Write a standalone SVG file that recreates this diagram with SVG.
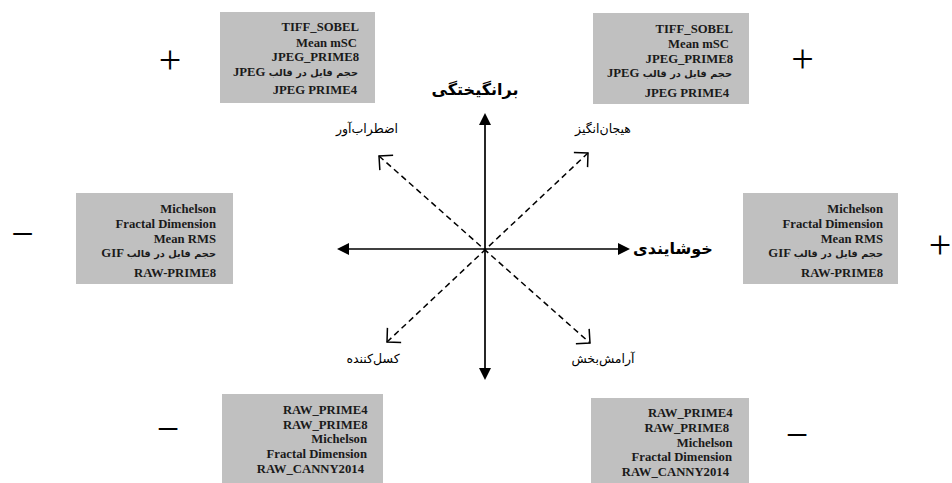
<svg xmlns="http://www.w3.org/2000/svg" width="952" height="483" viewBox="0 0 952 483">
<style>
.box{fill:#c0c0c0;stroke:none}
.bt{font-family:"Liberation Serif","DejaVu Sans",serif;font-weight:bold;font-size:12.7px;fill:#1a1a1a;text-anchor:end}
.fa{font-family:"DejaVu Sans",sans-serif;font-size:9.8px;font-weight:bold}
.axl{font-family:"DejaVu Sans",sans-serif;font-weight:bold;font-size:16px;fill:#000;text-anchor:middle}
.dl{font-family:"DejaVu Sans",sans-serif;font-size:12.5px;fill:#000;text-anchor:middle}
.sign{font-family:"Liberation Serif",serif;font-size:40px;fill:#000;text-anchor:middle}
.axis{stroke:#000;stroke-width:1.7;fill:none}
.diag{stroke:#000;stroke-width:1.5;stroke-dasharray:6 4;fill:none}
</style>
<defs>
<marker id="solid" markerUnits="userSpaceOnUse" viewBox="-12 -8 16 16" markerWidth="16" markerHeight="16" refX="0" refY="0" orient="auto-start-reverse" overflow="visible">
<path d="M2,0 L-10,-6 L-10,6 Z" fill="#000" stroke="none"/>
</marker>
<marker id="open" markerUnits="userSpaceOnUse" viewBox="-14 -14 18 28" markerWidth="18" markerHeight="28" refX="0" refY="0" orient="auto-start-reverse" overflow="visible">
<path d="M-10,-10 L0,0 L-10,10" fill="none" stroke="#000" stroke-width="1.5" stroke-dasharray="none"/>
</marker>
</defs>
<rect width="952" height="483" fill="#fff"/>

<g id="connectors">
<line class="axis" x1="485" y1="115" x2="485" y2="378" marker-start="url(#solid)" marker-end="url(#solid)"/>
<line class="axis" x1="339" y1="249" x2="628" y2="249" marker-start="url(#solid)" marker-end="url(#solid)"/>
<line class="diag" x1="379" y1="156" x2="590" y2="343" marker-start="url(#open)" marker-end="url(#open)"/>
<line class="diag" x1="387" y1="342" x2="588" y2="153" marker-start="url(#open)" marker-end="url(#open)"/>
</g>

<g id="box-top-left">
<rect class="box" x="220" y="12" width="155" height="91"/>
<text class="bt" x="359" y="30.5">TIFF_SOBEL</text>
<text class="bt" x="357" y="46.5">Mean mSC</text>
<text class="bt" x="359" y="60.5">JPEG_PRIME8</text>
<text class="bt" x="358" y="76">JPEG  <tspan class="fa">حجم فایل در قالب</tspan></text>
<text class="bt" x="357" y="94">JPEG  PRIME4</text>
</g>

<g id="box-top-right">
<rect class="box" x="593" y="13" width="156" height="91"/>
<text class="bt" x="733" y="32.5">TIFF_SOBEL</text>
<text class="bt" x="729" y="48">Mean mSC</text>
<text class="bt" x="733" y="62.5">JPEG_PRIME8</text>
<text class="bt" x="732" y="77">JPEG  <tspan class="fa">حجم فایل در قالب</tspan></text>
<text class="bt" x="729" y="96.5">JPEG  PRIME4</text>
</g>

<g id="box-left">
<rect class="box" x="76" y="193" width="157" height="91"/>
<text class="bt" x="216" y="213">Michelson</text>
<text class="bt" x="216" y="227.5">Fractal Dimension</text>
<text class="bt" x="216" y="242.5">Mean RMS</text>
<text class="bt" x="216" y="257">GIF  <tspan class="fa">حجم فایل در قالب</tspan></text>
<text class="bt" x="216" y="276.5">RAW-PRIME8</text>
</g>

<g id="box-right">
<rect class="box" x="743" y="193" width="155" height="91"/>
<text class="bt" x="883" y="213">Michelson</text>
<text class="bt" x="883" y="227.5">Fractal Dimension</text>
<text class="bt" x="883" y="242.5">Mean RMS</text>
<text class="bt" x="883" y="257">GIF  <tspan class="fa">حجم فایل در قالب</tspan></text>
<text class="bt" x="883" y="276.5">RAW-PRIME8</text>
</g>

<g id="box-bottom-left">
<rect class="box" x="222" y="394" width="161" height="89"/>
<text class="bt" x="367.5" y="414">RAW_PRIME4</text>
<text class="bt" x="367.5" y="429">RAW_PRIME8</text>
<text class="bt" x="367" y="443">Michelson</text>
<text class="bt" x="367" y="458">Fractal Dimension</text>
<text class="bt" x="364" y="472.5">RAW_CANNY2014</text>
</g>

<g id="box-bottom-right">
<rect class="box" x="591" y="398" width="158" height="85"/>
<text class="bt" x="732.5" y="417">RAW_PRIME4</text>
<text class="bt" x="729" y="431.5">RAW_PRIME8</text>
<text class="bt" x="732.5" y="446.5">Michelson</text>
<text class="bt" x="732" y="460.5">Fractal Dimension</text>
<text class="bt" x="729" y="476">RAW_CANNY2014</text>
</g>

<g id="label-arousal"><text class="axl" x="475" y="95">برانگیختگی</text></g>
<g id="label-pleasure"><text class="axl" x="633" y="254" style="text-anchor:start">خوشایندی</text></g>
<g id="label-anxious"><text class="dl" x="367" y="133">اضطراب‌آور</text></g>
<g id="label-exciting"><text class="dl" x="603" y="133">هیجان‌انگیز</text></g>
<g id="label-boring"><text class="dl" x="373" y="363">کسل‌کننده</text></g>
<g id="label-relaxing"><text class="dl" x="603" y="363">آرامش‌بخش</text></g>

<g id="signs">
<text class="sign" x="170" y="72.5">+</text>
<text class="sign" x="802.5" y="72">+</text>
<text class="sign" x="940" y="258">+</text>
<text class="sign" x="22.5" y="247">−</text>
<text class="sign" x="168" y="442">−</text>
<text class="sign" x="797" y="448">−</text>
</g>
</svg>
